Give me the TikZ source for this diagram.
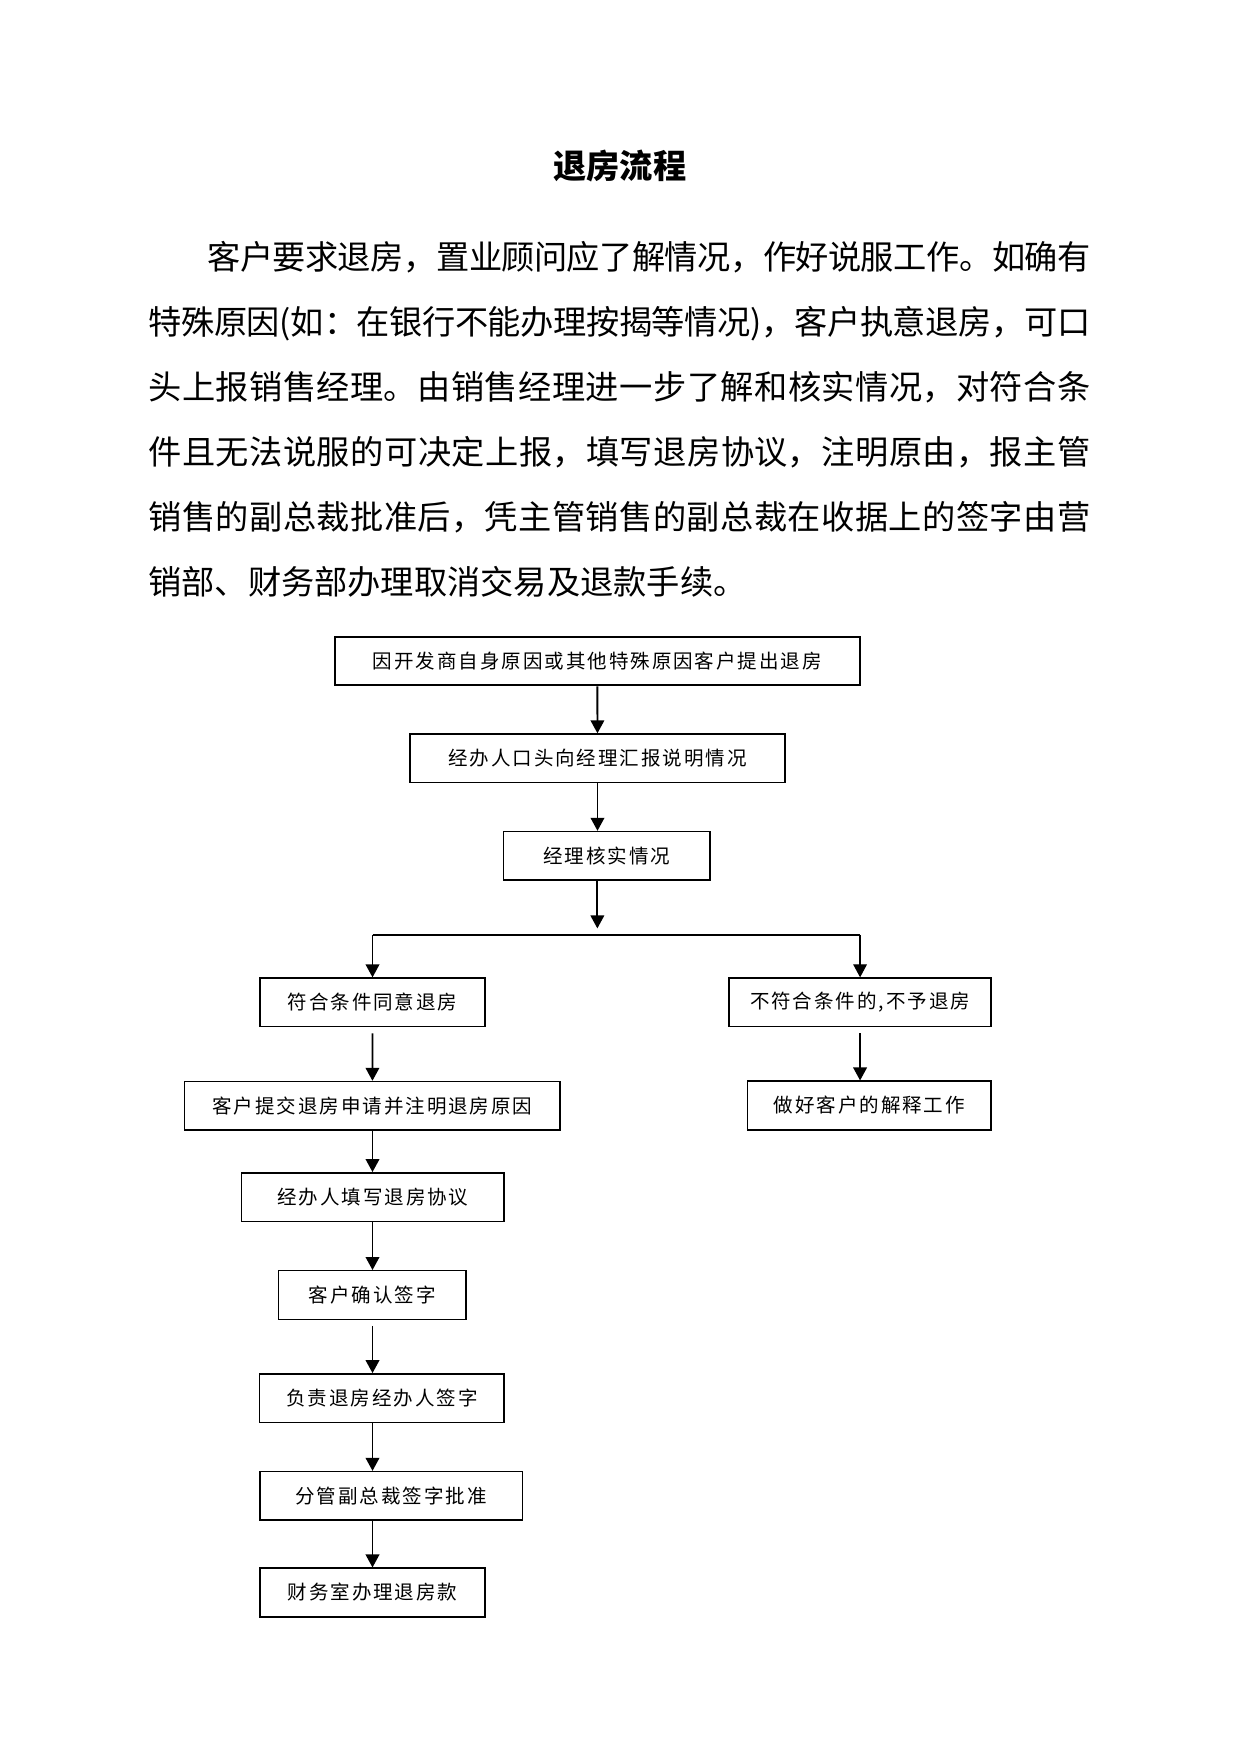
\documentclass[tikz,border=0pt]{standalone}
\usepackage{fontspec}
\setmainfont{Noto Sans CJK SC}
\newfontfamily\boxfont{Noto Sans CJK SC}[LetterSpace=10]
\usepackage{xcolor}
\usepackage{tikz}
\usetikzlibrary{arrows.meta}
\XeTeXlinebreaklocale "zh"
\XeTeXlinebreakskip=0pt plus 2pt minus 0.6pt
\tikzset{stepbox/.style={draw, line width=0.7pt, minimum height=0.8222cm, inner sep=0pt, font=\boxfont\fontsize{9.4}{11}\selectfont}}
\tikzset{boxw/.style={minimum width=#1*0.018902cm}}
\tikzset{flow/.style={line width=0.9pt, -{Triangle[length=2.2mm,width=2.3mm]}}}
\tikzset{gap/.style={shorten <=0.1cm}}

\begin{document}
\begin{tikzpicture}[x=0.018902cm, y=-0.018902cm]
\useasboundingbox (0,0) rectangle (1111,1570.3);
\node[font=\bfseries\fontsize{16}{16}\selectfont](title) at (555,149){退房流程};
\node[anchor=base west, inner sep=0pt, text width=15.944cm, align=justify, font=\fontsize{16}{31.3}\selectfont](intro) at (132.5,241){\hspace*{1cm}客户要求退房，置业顾问应了解情况，作好说服工作。如确有\linebreak
特殊原因(如：在银行不能办理按揭等情况)，客户执意退房，可口\linebreak
头上报销售经理。由销售经理进一步了解和核实情况，对符合条\linebreak
件且无法说服的可决定上报，填写退房协议，注明原由，报主管\linebreak
销售的副总裁批准后，凭主管销售的副总裁在收据上的签字由营\linebreak
销部、财务部办理取消交易及退款手续。};
\node[stepbox, boxw=470.4, line width=0.9pt](start) at (534.8,591.8){因开发商自身原因或其他特殊原因客户提出退房};
\node[stepbox, boxw=335.8](report) at (534.9,678.9){经办人口头向经理汇报说明情况};
\node[stepbox, boxw=185](check) at (543.3,766.2){经理核实情况};
\node[stepbox, boxw=201.8](agree) at (333.5,897.4){符合条件同意退房};
\node[stepbox, boxw=234.5](refuse) at (770,897.4){不符合条件的,不予退房};
\node[stepbox, boxw=336.1](apply) at (333.4,990){客户提交退房申请并注明退房原因};
\node[stepbox, boxw=217.8](explain) at (778.3,989.7){做好客户的解释工作};
\node[stepbox, boxw=234.8](fill) at (333.8,1071.7){经办人填写退房协议};
\node[stepbox, boxw=167.7](confirm) at (333.4,1159.4){客户确认签字};
\node[stepbox, boxw=218.7](agent) at (341.9,1251.7){负责退房经办人签字};
\node[stepbox, boxw=234.8](approve) at (350.2,1339.2){分管副总裁签字批准};
\node[stepbox, boxw=201.4](refund) at (333.5,1425.7){财务室办理退房款};
\coordinate (split) at (534.8,837);
\coordinate (joint) at (645,837);
\draw[flow] (start) -- (report);
\draw[flow] (report.south) -- (report.south |- check.north);
\draw[flow, shorten >=0.11cm] (check.south -| split) -- (split);
\draw[line width=1pt] (agree |- split) -- (joint);
\draw[line width=0.6pt] (joint) -- (refuse |- split);
\draw[flow] (agree |- split) -- (agree);
\draw[flow, line width=0.6pt] (refuse |- split) -- (refuse);
\draw[flow, gap] (agree) -- (apply);
\draw[flow, gap] (refuse.south) -- (refuse.south |- explain.north);
\draw[flow] (apply.south -| agree) -- (fill.north -| agree);
\draw[flow] (fill.south -| agree) -- (confirm.north -| agree);
\draw[flow, gap] (confirm.south -| agree) -- (agent.north -| agree);
\draw[flow] (agent.south -| agree) -- (approve.north -| agree);
\draw[flow] (approve.south -| agree) -- (refund);
\end{tikzpicture}
\end{document}
